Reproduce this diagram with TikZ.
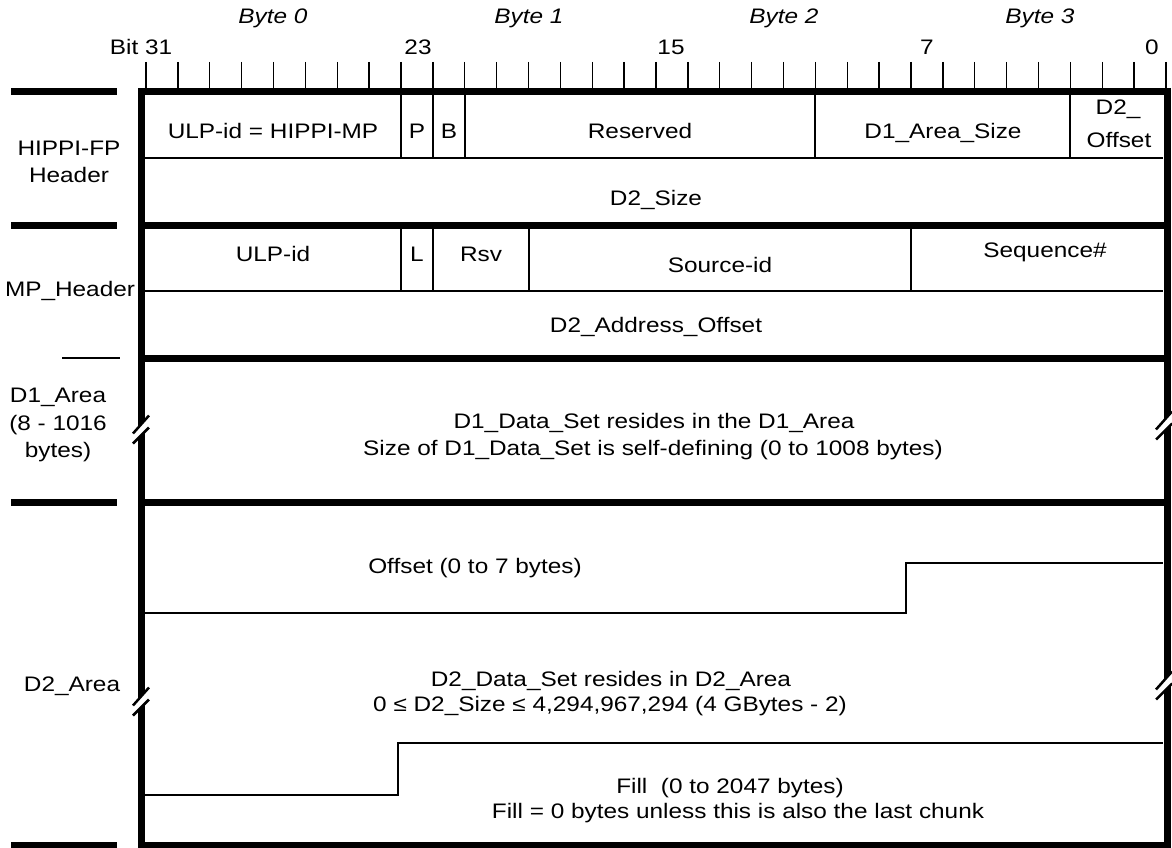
\documentclass[tikz,border=0pt]{standalone}
\usepackage{fontspec}
\setmainfont{Liberation Sans}[FakeStretch=1.16]
\usepackage{tikz}

\tikzset{
  lbl/.style={anchor=base, inner sep=0pt, font=\fontsize{21}{25}\selectfont},
  bytelbl/.style={lbl, font=\fontsize{21}{25}\selectfont\itshape},
  heavy/.style={line width=7pt},
  fieldline/.style={line width=2pt},
  tickline/.style={line width=1.4pt},
  breakline/.style={line width=2.5pt}
}

\begin{document}
\begin{tikzpicture}[x=1pt,y=-1pt]
    \useasboundingbox (0,0) rectangle (1172,848);
    % bit ruler
    \foreach \i in {0,...,32}
        \draw[tickline] ({146+31.875*\i},62) -- ({146+31.875*\i},88);
    \node[bytelbl] (byte0) at (273,24) {Byte 0};
    \node[bytelbl] (byte1) at (529,24) {Byte 1};
    \node[bytelbl] (byte2) at (784,24) {Byte 2};
    \node[bytelbl] (byte3) at (1040,24) {Byte 3};
    \node[lbl] (bit31) at (141,55) {Bit 31};
    \node[lbl] (bit23) at (418,55) {23};
    \node[lbl] (bit15) at (671,55) {15};
    \node[lbl] (bit7) at (927,55) {7};
    \node[lbl] (bit0) at (1152,55) {0};
    % frame
    \draw[heavy] (141,91.5) -- (1167.5,91.5);
    \draw[heavy] (141,88) -- (141,848);
    \draw[heavy] (1167.5,88) -- (1167.5,848);
    \draw[heavy] (141,845) -- (1167.5,845);
    \draw[heavy] (141,225) -- (1167.5,225);
    \draw[heavy] (141,358) -- (1167.5,358);
    \draw[heavy] (141,502) -- (1167.5,502);
    \draw[fieldline] (145,158) -- (1163,158);
    \draw[fieldline] (145,291) -- (1163,291);
    % HIPPI-FP fields
    \foreach \k in {8,9,10,21,29}
        \draw[fieldline] ({146+31.875*\k},95) -- ({146+31.875*\k},158);
    \node[lbl] (ulpfp) at (273,139) {ULP-id = HIPPI-MP};
    \node[lbl] (pbit) at (417,139) {P};
    \node[lbl] (bbit) at (449,139) {B};
    \node[lbl] (resv) at (640,139) {Reserved};
    \node[lbl] (d1size) at (943,139) {D1\_Area\_Size};
    \node[lbl] (d2offa) at (1118,115) {D2\_};
    \node[lbl] (d2offb) at (1119,147) {Offset};
    \node[lbl] (d2size) at (656,205) {D2\_Size};
    % MP header fields
    \foreach \k in {8,9,12,24}
        \draw[fieldline] ({146+31.875*\k},228) -- ({146+31.875*\k},291);
    \node[lbl] (ulpmp) at (273,261) {ULP-id};
    \node[lbl] (lbit) at (417,261) {L};
    \node[lbl] (rsv) at (481,261) {Rsv};
    \node[lbl] (srcid) at (720,272) {Source-id};
    \node[lbl] (seqno) at (1045,257) {Sequence\#};
    \node[lbl] (d2addr) at (656,332) {D2\_Address\_Offset};
    % D1 area
    \node[lbl] (d1texta) at (654,428) {D1\_Data\_Set resides in the D1\_Area};
    \node[lbl] (d1textb) at (653,455) {Size of D1\_Data\_Set is self-defining (0 to 1008 bytes)};
    % D2 area
    \draw[fieldline] (145,613) -- (906,613) -- (906,563) -- (1163,563);
    \draw[fieldline] (145,795) -- (398,795) -- (398,743) -- (1163,743);
    \node[lbl] (offtext) at (475,573) {Offset (0 to 7 bytes)};
    \node[lbl] (d2texta) at (611,686) {D2\_Data\_Set resides in D2\_Area};
    \node[lbl] (d2textb) at (610,711) {0 ≤ D2\_Size ≤ 4,294,967,294 (4 GBytes - 2)};
    \node[lbl] (filla) at (730,793) {Fill~~(0 to 2047 bytes)};
    \node[lbl] (fillb) at (738,818) {Fill = 0 bytes unless this is also the last chunk};
    % break marks
    \foreach \bx/\by in {141/430, 141/702, 1164/426, 1164/686} {
        \fill[white] (\bx-8,\by+3.5) -- (\bx+8,\by-14.5) -- (\bx+8,\by-2.5) -- (\bx-8,\by+13.5) -- cycle;
        \draw[breakline] (\bx-8,\by+3.5) -- (\bx+8,\by-14.5);
        \draw[breakline] (\bx-8,\by+13.5) -- (\bx+8,\by-2.5);
    }
    % left side labels
    \draw[heavy] (11,91.5) -- (117,91.5);
    \draw[heavy] (11,225) -- (117,225);
    \draw[line width=2.5pt] (62,358) -- (120,358);
    \draw[heavy] (11,502) -- (117,502);
    \draw[heavy] (11,845) -- (117,845);
    \node[lbl] (fphdra) at (69,155) {HIPPI-FP};
    \node[lbl] (fphdrb) at (69,182) {Header};
    \node[lbl] (mphdr) at (70,296) {MP\_Header};
    \node[lbl] (d1lbla) at (58,402) {D1\_Area};
    \node[lbl] (d1lblb) at (58,430) {(8 - 1016};
    \node[lbl] (d1lblc) at (58,457) {bytes)};
    \node[lbl] (d2lbl) at (72,691) {D2\_Area};
\end{tikzpicture}
\end{document}
